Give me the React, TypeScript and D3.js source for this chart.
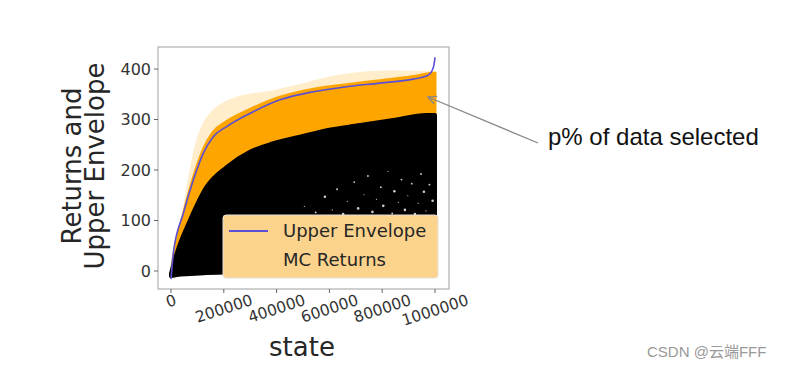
import React from 'react';
import * as d3 from 'd3';

// upper envelope curve (state, return)
const envStates = [0, 8700, 46600, 84500, 122000, 160000, 211000, 299000, 413000, 539000, 665000, 792000, 918000, 968000, 987000, 996000, 1000000];
const envValues = [-16, 35, 114, 180, 233, 266, 286, 312, 339, 355, 365, 372, 380, 386, 395, 408, 423];

// dense MC returns band (orange top edge)
const mcStates = [0, 10000, 47000, 85000, 122000, 160000, 211000, 300000, 413000, 540000, 665000, 792000, 918000, 970000, 1000000];
const mcTop = [-10, 30, 112, 185, 240, 275, 296, 320, 344, 360, 369, 377, 385, 390, 392];

// sparse scatter above the band
const fringeStates = [40000, 84000, 135000, 249000, 388000, 500000, 640000, 830000, 990000, 1000000];
const fringeTop = [105, 235, 305, 345, 358, 372, 389, 397, 396, 392];

// black returns (top edge)
const blackStates = [0, 21600, 72000, 135000, 211000, 299000, 388000, 489000, 590000, 716000, 842000, 968000, 1000000];
const blackTop = [-5, 35, 101, 167, 206, 236, 253, 266, 279, 289, 299, 309, 309];
const blackBottom = [-10, -8, -6, -4, -3, -3, -3, -3, -3, -3, -3, -3, -3];

// white gaps in the black cloud
const speckStates = [505000, 548000, 583000, 611000, 629000, 652000, 668000, 694000, 709000, 731000, 746000, 763000, 778000, 795000, 804000, 822000, 838000, 846000, 861000, 873000, 886000, 897000, 912000, 924000, 936000, 947000, 958000, 966000, 979000, 991000];
const speckValues = [128, 116, 147, 121, 162, 113, 138, 176, 124, 151, 188, 117, 142, 166, 129, 197, 114, 158, 136, 181, 121, 149, 173, 113, 134, 192, 157, 119, 171, 139];

const xTicks = [0, 200000, 400000, 600000, 800000, 1000000];
const yTicks = [0, 100, 200, 300, 400];

const W = 803;
const H = 370;
const box = { left: 158, top: 47, right: 449, bottom: 289 };

export default function App() {
  const x = d3.scaleLinear().domain([0, 1000000]).range([171, 435]);
  const y = d3.scaleLinear().domain([0, 400]).range([271, 69]);

  const mcLower = d3.scaleLinear().domain(blackStates).range(blackTop);
  const mcUpper = d3.scaleLinear().domain(mcStates).range(mcTop);

  const blackArea = d3.area<number>()
    .x((_, i) => x(blackStates[i]))
    .y0((_, i) => y(blackBottom[i]))
    .y1((_, i) => y(blackTop[i]))
    .curve(d3.curveMonotoneX);

  const orangeArea = d3.area<number>()
    .x((_, i) => x(mcStates[i]))
    .y0((_, i) => y(Math.min(mcLower(mcStates[i]), mcTop[i])))
    .y1((_, i) => y(mcTop[i]))
    .curve(d3.curveMonotoneX);

  const fringeArea = d3.area<number>()
    .x((_, i) => x(fringeStates[i]))
    .y0((_, i) => y(mcUpper(fringeStates[i])))
    .y1((_, i) => y(fringeTop[i]))
    .curve(d3.curveMonotoneX);

  const envLine = d3.line<number>()
    .x((_, i) => x(envStates[i]))
    .y((_, i) => y(envValues[i]))
    .curve(d3.curveMonotoneX);

  const tickFont = 'DejaVu Sans, sans-serif';
  const rot = 18;
  const rad = (rot * Math.PI) / 180;

  return (
    <svg width={W} height={H} style={{ position: 'absolute', left: 0, top: 0, background: '#fff' }}>
      {/* sparse MC scatter above the band */}
      <path d={fringeArea(fringeStates) || ''} fill="#ffa500" opacity={0.2} />
      {/* orange MC returns */}
      <path d={orangeArea(mcStates) || ''} fill="#ffa500" stroke="#ffa500" strokeWidth={3} strokeLinejoin="round" />
      {/* black returns */}
      <path d={blackArea(blackStates) || ''} fill="#000" stroke="#000" strokeWidth={4} strokeLinejoin="round" />
      {speckStates.map((s, i) => (
        <circle key={i} cx={x(s)} cy={y(speckValues[i])} r={0.6 + (i % 3) * 0.35} fill="#fff" opacity={0.8} />
      ))}

      {/* legend */}
      <g>
        <rect x={223} y={215} width={215} height={63} rx={3} fill="#fbd38c" stroke="#e6e0d8" strokeWidth={1} />
        <line x1={229} x2={268} y1={231} y2={231} stroke="#5b4fd6" strokeWidth={1.8} />
        <text x={283} y={237} fontFamily={tickFont} fontSize={18} fill="#262626">Upper Envelope</text>
        <text x={283} y={266} fontFamily={tickFont} fontSize={18} fill="#262626">MC Returns</text>
      </g>

      {/* upper envelope */}
      <path d={envLine(envStates) || ''} fill="none" stroke="#5b4fd6" strokeWidth={1.6} />

      {/* frame */}
      <rect x={box.left} y={box.top} width={box.right - box.left} height={box.bottom - box.top} fill="none" stroke="#b0b0b0" strokeWidth={1.2} />

      {/* y axis */}
      {yTicks.map(t => (
        <g key={t}>
          <line x1={box.left - 4} x2={box.left} y1={y(t)} y2={y(t)} stroke="#666" />
          <text x={box.left - 7} y={y(t)} dy="0.35em" textAnchor="end" fontFamily={tickFont} fontSize={16} fill="#333">{t}</text>
        </g>
      ))}

      {/* x axis */}
      {xTicks.map(t => {
        const label = String(t);
        const w = label.length * 0.636 * 15.5;
        const bh = w * Math.sin(rad) + 13 * Math.cos(rad);
        const cy = 293 + bh / 2;
        return (
          <g key={t}>
            <line x1={x(t)} x2={x(t)} y1={box.bottom} y2={box.bottom + 4} stroke="#666" />
            <text
              transform={`translate(${x(t)},${cy}) rotate(${-rot})`}
              textAnchor="middle"
              dy="0.36em"
              fontFamily={tickFont}
              fontSize={15.5}
              fill="#333"
            >
              {label}
            </text>
          </g>
        );
      })}

      {/* axis titles */}
      <text x={302} y={356} textAnchor="middle" fontFamily={tickFont} fontSize={26} fill="#262626">state</text>
      <g transform="translate(0,166) rotate(-90)">
        <text x={0} y={81} textAnchor="middle" fontFamily={tickFont} fontSize={26} fill="#262626">Returns and</text>
        <text x={0} y={104} textAnchor="middle" fontFamily={tickFont} fontSize={26} fill="#262626">Upper Envelope</text>
      </g>

      {/* annotation */}
      <defs>
        <marker id="arrow" viewBox="0 0 10 10" refX={9} refY={5} markerWidth={8} markerHeight={8} orient="auto-start-reverse">
          <path d="M1,1 L9,5 L1,9" fill="none" stroke="#888" strokeWidth={1.3} />
        </marker>
      </defs>
      <line x1={538} y1={143} x2={428} y2={97} stroke="#888" strokeWidth={1.3} markerEnd="url(#arrow)" />
      <text x={548} y={145} fontFamily="Liberation Sans, Arial, sans-serif" fontSize={24} fill="#111">p% of data selected</text>

      {/* watermark */}
      <text x={647} y={357} fontFamily="Liberation Sans, Noto Sans CJK SC, sans-serif" fontSize={15} fill="#999">CSDN @云端FFF</text>
    </svg>
  );
}
